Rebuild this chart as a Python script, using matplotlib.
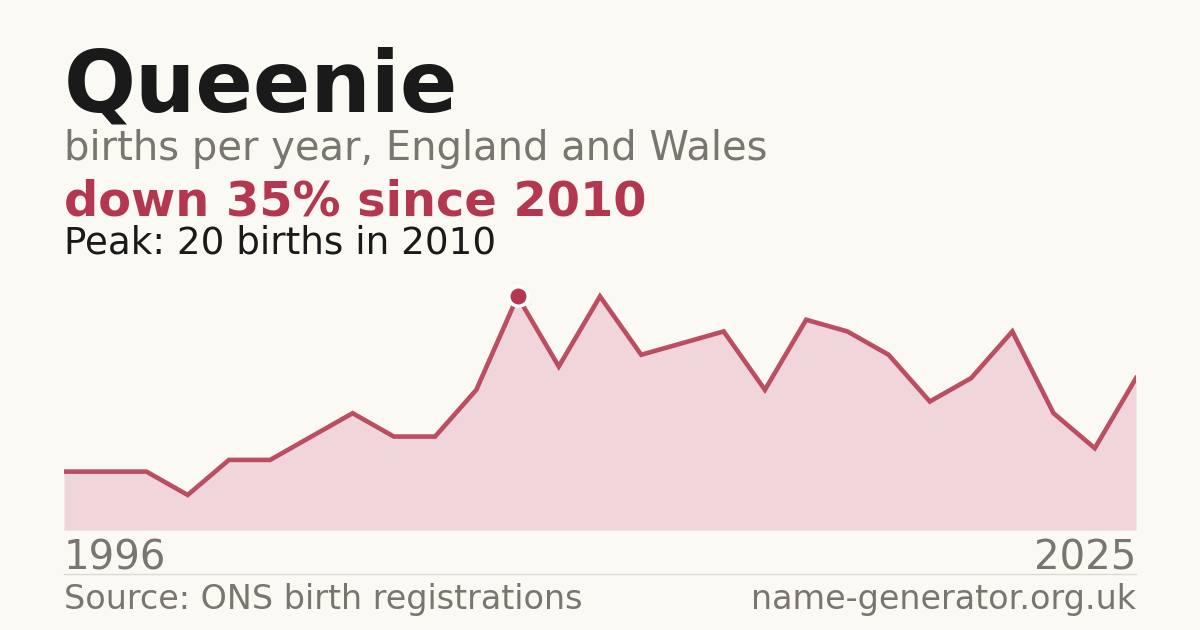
import numpy as np
import matplotlib.pyplot as plt

plt.rcParams['font.family'] = ['DejaVu Sans']

# births per year (years with no published figure are left out)
years = [1996, 1997, 1998, 2000, 2001, 2003, 2004, 2005, 2006, 2008, 2009,
         2010, 2011, 2012, 2013, 2014, 2015, 2016, 2017, 2018, 2019, 2020,
         2021, 2022, 2023, 2024, 2025]
births = [5, 5, 5, 3, 6, 6, 8, 10, 8, 8, 12,
          20, 14, 20, 15, 16, 17, 12, 18, 17, 15, 11,
          13, 17, 10, 7, 13]

name = "Queenie"
subtitle = "births per year, England and Wales"
source = "Source: ONS birth registrations"
site = "name-generator.org.uk"

BG = '#faf9f4'
RED = '#b3384f'
FILL = '#f0d5da'
GREY = '#7a756e'
DARK = '#1a1a1a'

W, H = 1200, 630
fig = plt.figure(figsize=(W / 100, H / 100), dpi=100, facecolor=BG)

def fy(py):
    return 1 - py / H

# plot area in pixels: x 64..1136, y 280..530
ax = fig.add_axes([64 / W, fy(530), (1136 - 64) / W, (530 - 280) / H])
ax.set_facecolor(BG)

x = np.arange(len(births))
b = np.array(births)
ax.fill_between(x, 0, b, color=FILL, lw=0, zorder=1)
ax.plot(x, b, color=RED, lw=3.3, alpha=0.88, solid_joinstyle='miter', zorder=3)

peak_i = int(np.argmax(b))
ax.plot([x[peak_i]], [b[peak_i]], 'o', ms=14, color=RED, mec='white', mew=2.5, zorder=4)

ax.set_xlim(0, len(births) - 1)
ax.set_ylim(0, b.max() * 1.07)
ax.axis('off')
ax.axhline(0, color='#dcdad5', lw=1, zorder=2)

# headline texts
pct = round((b[peak_i] - b[-1]) / b[peak_i] * 100)
fig.text(64 / W, fy(111), name, fontsize=61, fontweight='bold', color=DARK, va='baseline')
fig.text(64 / W, fy(160), subtitle, fontsize=28.8, color=GREY, va='baseline')
fig.text(64 / W, fy(215), f"down {pct}% since {years[peak_i]}", fontsize=34.5,
         fontweight='bold', color=RED, va='baseline')
fig.text(64 / W, fy(253), f"Peak: {b[peak_i]} births in {years[peak_i]}", fontsize=26.8,
         color=DARK, va='baseline')

# year labels
fig.text(64 / W, fy(570), str(years[0]), fontsize=29, color=GREY, va='baseline')
fig.text(1136 / W, fy(570), str(years[-1]), fontsize=29, color=GREY, va='baseline', ha='right')

# divider + footer
fig.add_artist(plt.Line2D([64 / W, 1136 / W], [fy(574), fy(574)], color='#dcdad5', lw=1))
fig.text(64 / W, fy(609), source, fontsize=24, color=GREY, va='baseline')
fig.text(1136 / W, fy(609), site, fontsize=24, color=GREY, va='baseline', ha='right')

fig.savefig('out.png', dpi=100, facecolor=BG)
